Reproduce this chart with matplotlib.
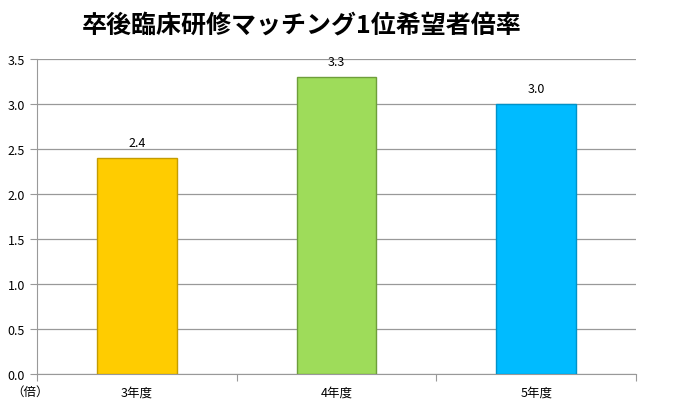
import matplotlib
matplotlib.use('Agg')
import matplotlib.pyplot as plt
import numpy as np

plt.rcParams['font.family'] = ['Noto Sans CJK JP', 'DejaVu Sans']

# data
years = ['3年度', '4年度', '5年度']
ratios = [2.4, 3.3, 3.0]
face_colors = ['#FFCC00', '#9EDC5A', '#00BBFF']
edge_colors = ['#C49C00', '#6E9E3A', '#0092C8']

fig = plt.figure(figsize=(6.95, 4.1), dpi=100)
ax = fig.add_axes([37/695, 35/410, 599/695, 315/410])

x = np.arange(len(years))
ax.bar(x, ratios, width=0.4, color=face_colors, edgecolor=edge_colors, linewidth=1.0, zorder=3)

for xi, v in zip(x, ratios):
    ax.text(xi, v + 0.1, f'{v:.1f}', ha='center', va='bottom', fontsize=9)

ax.set_xlim(-0.5, 2.5)
ax.set_ylim(0, 3.5)
ax.set_yticks(np.arange(0, 3.51, 0.5))
ax.set_yticklabels([f'{t:.1f}' for t in np.arange(0, 3.51, 0.5)], fontsize=9)
ax.yaxis.grid(True, color='#999999', linewidth=0.9, zorder=0)

# category ticks at boundaries, labels at centers
ax.set_xticks([-0.5, 0.5, 1.5, 2.5])
ax.set_xticklabels([])
ax.set_xticks(x, minor=True)
ax.set_xticklabels(years, minor=True, fontsize=9)
ax.tick_params(axis='x', which='minor', length=0, pad=8)
ax.tick_params(axis='x', which='major', length=5, color='#999999', direction='out')
ax.tick_params(axis='y', length=5, color='#999999', direction='out')

for s in ['top', 'right']:
    ax.spines[s].set_visible(False)
for s in ['left', 'bottom']:
    ax.spines[s].set_color('#999999')

fig.text(302/695, 1 - 26/410, '卒後臨床研修マッチング1位希望者倍率', ha='center', va='center',
         fontsize=18, fontweight='bold')
fig.text(30/695, 1 - 392/410, '（倍）', ha='center', va='center', fontsize=9)

fig.savefig('out.png', dpi=100)
